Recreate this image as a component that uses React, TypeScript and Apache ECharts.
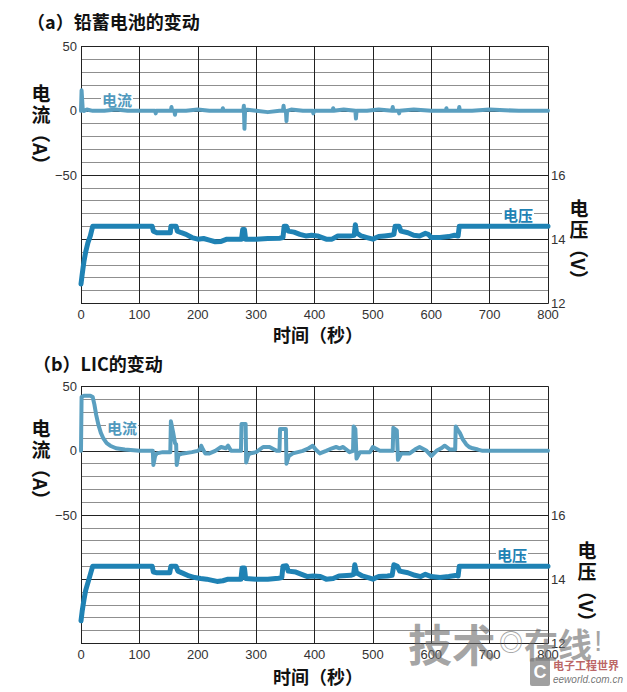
import React, { useEffect, useRef } from "react";
import * as echarts from "echarts";

// ---- data (time in s, current in A, voltage in V) ----
const timeTicks = [0, 100, 200, 300, 400, 500, 600, 700, 800];
const currentTickLabels = [50, 0, -50];
const voltageTickLabels = [12, 14, 16];

const leadCurrent: [number, number][] = [
  [0, 0], [1, 16], [3, 1], [5, 0], [10, 1], [20, 0], [40, 0], [60, 1], [80, 0], [100, 0], [120, 0],
  [127, 0], [128, -2], [129, 0], [140, 0], [154, 0], [155, 3], [156, 0], [160, 0], [161, -3], [162, 0],
  [180, 0], [200, 1], [220, 0], [242, 0], [243, 2], [244, 0], [260, 0], [278, 0], [279, 4], [280, -14],
  [281, 0], [282, 1], [300, 0], [320, -1], [340, 0], [346, 0], [347, 4], [348, 0], [351, 0], [352, -8],
  [353, 0], [360, 1], [380, 0], [397, 0], [398, -2], [399, 0], [420, 0], [431, 0], [432, 2], [433, 0],
  [450, 1], [470, 0], [471, -6], [472, 0], [490, 0], [510, 1], [533, 0], [534, 3], [535, 0], [544, 0],
  [545, -2], [546, 0], [570, 1], [600, 0], [625, 0], [626, 2], [627, 0], [647, 0], [648, 3], [649, 0],
  [670, 0], [700, 1], [750, 0], [800, 0],
];

const leadVoltage: [number, number][] = [
  [0, 12.6], [2, 12.9], [5, 13.3], [8, 13.6], [12, 13.9], [16, 14.1], [20, 14.4], [60, 14.4], [100, 14.4],
  [122, 14.4], [124, 14.25], [130, 14.2], [140, 14.2], [153, 14.2], [154, 14.4], [163, 14.4], [165, 14.25],
  [172, 14.2], [180, 14.15], [190, 14.05], [200, 14.0], [210, 14.02], [220, 13.97], [230, 13.92],
  [240, 13.93], [250, 14.0], [260, 14.0], [275, 14.0], [277, 14.3], [280, 14.3], [282, 14.0], [300, 14.0],
  [320, 14.02], [340, 14.03], [346, 14.05], [348, 14.4], [352, 14.4], [355, 14.25], [365, 14.22],
  [375, 14.15], [385, 14.1], [395, 14.12], [405, 14.1], [420, 14.0], [430, 14.0], [440, 14.1],
  [460, 14.1], [468, 14.12], [470, 14.45], [472, 14.2], [480, 14.1], [490, 14.05], [500, 14.0],
  [510, 14.08], [520, 14.1], [530, 14.12], [536, 14.15], [538, 14.4], [545, 14.4], [548, 14.25],
  [560, 14.2], [570, 14.12], [580, 14.1], [590, 14.18], [595, 14.15], [600, 14.05], [615, 14.05],
  [630, 14.08], [640, 14.12], [646, 14.1], [648, 14.4], [800, 14.4],
];

const licCurrent: [number, number][] = [
  [0, 0], [1, 42], [5, 43], [16, 43], [20, 42], [23, 36], [26, 28], [30, 20], [34, 14], [38, 10], [44, 6],
  [50, 4], [60, 2], [75, 1], [100, 0], [123, 0], [124, -11], [127, -4], [130, -2], [140, -1], [153, -1],
  [154, 23], [158, 14], [161, 6], [163, 5], [164, -11], [167, -3], [175, -2], [190, -1], [200, 0],
  [204, 1], [206, 4], [209, 1], [213, -2], [220, -2], [230, 0], [240, 3], [248, 2], [252, 4], [257, 0],
  [274, 0], [275, 21], [282, 21], [283, -9], [286, -4], [289, -2], [300, -1], [312, 3], [323, 3],
  [335, 0], [340, 0], [341, 17], [351, 17], [352, -10], [356, -4], [363, -2], [380, 0], [390, 2],
  [397, 4], [402, 1], [409, -2], [420, 0], [430, 2], [437, 3], [443, 2], [449, 3], [460, -1], [466, 0],
  [467, 19], [470, 17], [472, -6], [478, -1], [495, -1], [500, 3], [512, 0], [520, 0], [534, 0],
  [535, 18], [541, 16], [543, -7], [549, -2], [563, -2], [572, 1], [580, 3], [592, 0], [600, -4],
  [609, 0], [617, 2], [623, 4], [632, 1], [641, 1], [642, 19], [646, 16], [649, 14], [654, 9], [660, 5],
  [665, 3], [671, 2], [680, 1], [688, 0], [800, 0],
];

const licVoltage: [number, number][] = [
  [0, 12.7], [2, 13.0], [5, 13.35], [8, 13.65], [12, 13.9], [16, 14.15], [20, 14.4], [122, 14.4],
  [124, 14.22], [130, 14.2], [152, 14.2], [154, 14.4], [163, 14.4], [166, 14.25], [175, 14.18],
  [185, 14.1], [195, 14.05], [205, 14.02], [215, 14.0], [225, 13.96], [233, 13.93], [243, 13.95],
  [252, 14.0], [265, 14.0], [274, 14.0], [276, 14.35], [280, 14.35], [282, 14.02], [300, 14.0],
  [320, 14.0], [338, 14.03], [344, 14.05], [346, 14.4], [352, 14.42], [355, 14.25], [368, 14.22],
  [378, 14.15], [388, 14.08], [398, 14.1], [410, 14.08], [420, 14.0], [432, 14.02], [442, 14.1],
  [462, 14.12], [467, 14.15], [469, 14.45], [472, 14.2], [482, 14.1], [492, 14.05], [500, 14.0],
  [510, 14.08], [525, 14.1], [533, 14.12], [536, 14.45], [542, 14.4], [546, 14.25], [560, 14.2],
  [572, 14.12], [582, 14.08], [590, 14.15], [600, 14.08], [615, 14.05], [630, 14.08], [644, 14.12],
  [646, 14.1], [648, 14.4], [800, 14.4],
];

const CUR_COLOR = "#5a9fc0";
const VOL_COLOR = "#1f82b4";
const CJK = '"Noto Sans CJK SC", sans-serif';
const NUM = '"Liberation Sans", Arial, sans-serif';

export default function App() {
  const ref = useRef<HTMLDivElement>(null);

  useEffect(() => {
    if (!ref.current) return;
    const chart = echarts.init(ref.current, undefined, { renderer: "svg" });

    const gridTops = [46.7, 386.7];
    const grids = gridTops.map((top) => ({ left: 81, top, width: 467, height: 256.6 }));

    const xAxes = gridTops.map((_, i) => ({
      type: "value",
      gridIndex: i,
      min: timeTicks[0],
      max: timeTicks[timeTicks.length - 1],
      interval: 100,
      axisLine: { show: true, lineStyle: { color: "#222", width: 1 } },
      axisTick: { show: false },
      axisLabel: { color: "#333", fontSize: 13, fontFamily: NUM, margin: 5 },
      splitLine: { show: true, lineStyle: { color: "#222", width: 1 } },
    }));

    const yAxes: any[] = [];
    gridTops.forEach((_, i) => {
      yAxes.push({
        type: "value",
        gridIndex: i,
        position: "left",
        min: -150,
        max: 50,
        interval: 50,
        axisLine: { show: true, lineStyle: { color: "#222", width: 1 } },
        axisTick: { show: false },
        minorTick: { show: false, splitNumber: 5 },
        axisLabel: {
          color: "#333",
          fontSize: 13,
          fontFamily: NUM,
          margin: 4,
          formatter: (v: number) =>
            currentTickLabels.includes(v) ? (v < 0 ? "\u2212" + Math.abs(v) : String(v)) : "",
        },
        splitLine: { show: true, lineStyle: { color: "#222", width: 1 } },
        minorSplitLine: { show: true, lineStyle: { color: "#8f8f8f", width: 1 } },
      });
      yAxes.push({
        type: "value",
        gridIndex: i,
        position: "right",
        min: 12,
        max: 20,
        interval: 2,
        axisLine: { show: true, lineStyle: { color: "#222", width: 1 } },
        axisTick: { show: false },
        axisLabel: {
          color: "#333",
          fontSize: 13,
          fontFamily: NUM,
          margin: 3,
          formatter: (v: number) => (voltageTickLabels.includes(v) ? String(v) : ""),
        },
        splitLine: { show: false },
      });
    });

    const mkSeries = (data: [number, number][], gi: number, yi: number, color: string, width: number) => ({
      type: "line",
      xAxisIndex: gi,
      yAxisIndex: yi,
      data,
      showSymbol: false,
      symbol: "none",
      lineStyle: { color, width, join: "round", cap: "round" },
      z: 5,
    });

    const series = [
      mkSeries(leadCurrent, 0, 0, CUR_COLOR, 4),
      mkSeries(leadVoltage, 0, 1, VOL_COLOR, 5),
      mkSeries(licCurrent, 1, 2, CUR_COLOR, 4),
      mkSeries(licVoltage, 1, 3, VOL_COLOR, 5),
    ];

    const txt = (text: string, x: number, y: number, opts: any = {}) => ({
      type: "text",
      x,
      y,
      rotation: opts.rotation || 0,
      z: opts.z || 100,
      style: {
        text,
        fill: opts.fill || "#111",
        font: opts.font || `bold 19px ${CJK}`,
        align: opts.align || "center",
        verticalAlign: "middle",
        backgroundColor: opts.bg,
        padding: opts.padding,
      },
    });

    const axisTitle = (x: number, y: number, chars: [string, string, string]) => [
      txt(chars[0], x, y),
      txt(chars[1], x, y + 21),
      txt(chars[2], x, y + 57, { rotation: -Math.PI / 2 }),
    ];

    const WM = "rgba(105,105,105,0.6)";
    const graphic: any[] = [
      txt("（a）铅蓄电池的变动", 27, 21, { align: "left", font: `bold 18px ${CJK}` }),
      txt("（b）LIC的变动", 33, 363, { align: "left", font: `bold 18px ${CJK}` }),
      ...axisTitle(41, 92, ["电", "流", "（A）"]),
      ...axisTitle(41, 427, ["电", "流", "（A）"]),
      ...axisTitle(579, 207, ["电", "压", "（V）"]),
      ...axisTitle(587, 549, ["电", "压", "（V）"]),
      txt("时间（秒）", 273, 334, { align: "left", font: `bold 18px ${CJK}` }),
      txt("时间（秒）", 273, 676, { align: "left", font: `bold 18px ${CJK}` }),
      txt("电流", 101, 99, { align: "left", font: `bold 15px ${CJK}`, fill: "#5199bd", bg: "#fff", padding: [0, 1] }),
      txt("电流", 106, 427, { align: "left", font: `bold 15px ${CJK}`, fill: "#5199bd", bg: "#fff", padding: [0, 1] }),
      txt("电压", 502, 214, { align: "left", font: `bold 15px ${CJK}`, fill: VOL_COLOR, bg: "#fff", padding: [0, 1] }),
      txt("电压", 496, 554, { align: "left", font: `bold 15px ${CJK}`, fill: VOL_COLOR, bg: "#fff", padding: [0, 1] }),
      // watermark
      txt("技术", 408, 643, { align: "left", font: `bold 44px ${CJK}`, fill: WM, z: 120 }),
      txt("◎", 499, 640, { align: "left", font: `24px ${CJK}`, fill: WM, z: 120 }),
      txt("在线", 524, 643, { align: "left", font: `bold 34px ${CJK}`, fill: WM, z: 120 }),
      txt("!", 594, 640, { align: "left", font: `30px ${NUM}`, fill: WM, z: 120 }),
      {
        type: "rect",
        z: 120,
        shape: { x: 530, y: 658, width: 20, height: 28, r: 2 },
        style: { fill: "rgba(120,120,120,0.7)" },
      },
      txt("C", 540, 672, { font: `bold 18px ${NUM}`, fill: "#fff", z: 121 }),
      txt("电子工程世界", 553, 665, { align: "left", font: `bold 11px ${CJK}`, fill: "rgba(170,60,60,0.8)", z: 121 }),
      txt("eeworld.com.cn", 553, 679, { align: "left", font: `italic 10px ${NUM}`, fill: "rgba(90,90,90,0.85)", z: 121 }),
    ];

    chart.setOption({
      animation: false,
      backgroundColor: "#fff",
      grid: grids,
      xAxis: xAxes,
      yAxis: yAxes,
      series,
      graphic,
    });

    return () => chart.dispose();
  }, []);

  return (
    <div
      ref={ref}
      style={{ position: "absolute", left: 0, top: 0, width: 627, height: 692, background: "#fff" }}
    />
  );
}
